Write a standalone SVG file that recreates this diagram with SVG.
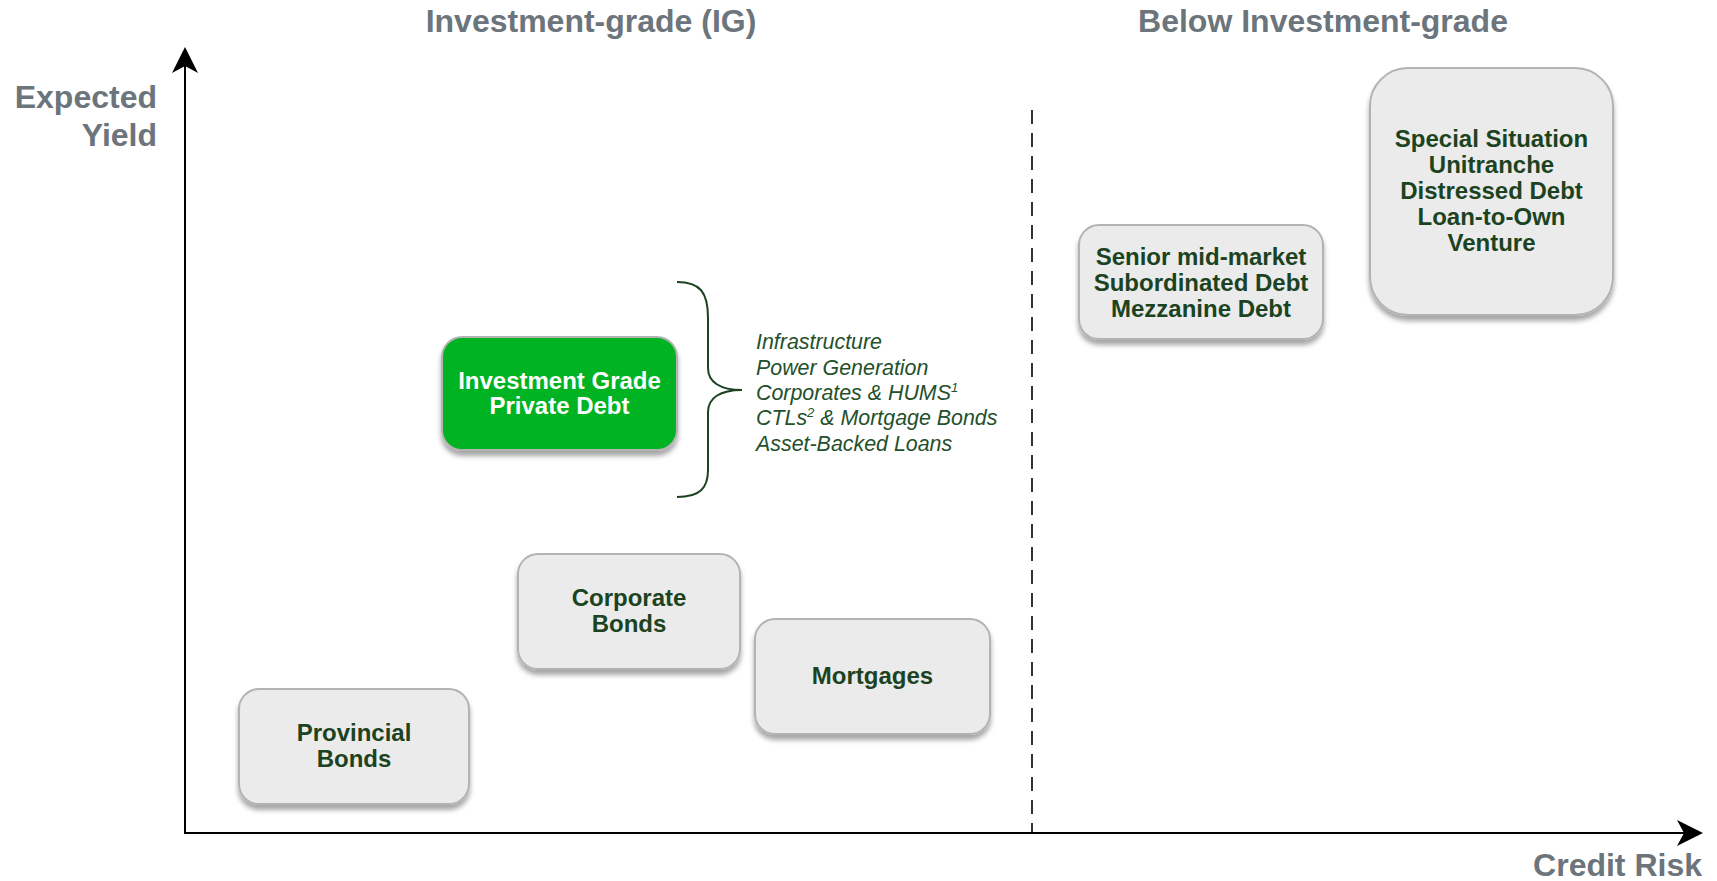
<svg xmlns="http://www.w3.org/2000/svg" width="1717" height="881" viewBox="0 0 1717 881">
<defs>
<filter id="sh" x="-10%" y="-10%" width="120%" height="130%">
<feDropShadow dx="0" dy="5" stdDeviation="2.5" flood-color="#000" flood-opacity="0.35"/>
</filter>
</defs>
<style>
.box{fill:#ebebeb;stroke:#b3b3b3;stroke-width:2;filter:url(#sh)}
.gbox{fill:#00b324;stroke:#b3b3b3;stroke-width:2;filter:url(#sh)}
.nt{font-family:"Liberation Sans",Arial,sans-serif;font-weight:bold;font-size:24px;fill:#1c4321;text-anchor:middle}
.wt{font-family:"Liberation Sans",Arial,sans-serif;font-weight:bold;font-size:24px;fill:#ffffff;text-anchor:middle}
.hd{font-family:"Liberation Sans",Arial,sans-serif;font-weight:bold;font-size:32px;fill:#6c747c}
.it{font-family:"Liberation Sans",Arial,sans-serif;font-style:italic;font-size:21.4px;fill:#24502b}
.ax{stroke:#000;stroke-width:2;fill:none}
</style>
<rect width="1717" height="881" fill="#ffffff"/>
<g id="headings">
<text class="hd" x="591" y="32" text-anchor="middle">Investment-grade (IG)</text>
<text class="hd" x="1323" y="32" text-anchor="middle">Below Investment-grade</text>
<text class="hd" x="157" y="108" text-anchor="end">Expected</text>
<text class="hd" x="157" y="146" text-anchor="end">Yield</text>
<text class="hd" x="1702" y="876" text-anchor="end">Credit Risk</text>
</g>
<g id="connectors">
<line class="ax" x1="185" y1="834" x2="185" y2="62"/>
<path d="M185,47 L198,73 L185,66 L172,73 Z" fill="#000"/>
<line class="ax" x1="184" y1="833" x2="1690" y2="833"/>
<path d="M1703,833 L1677,846 L1684,833 L1677,820 Z" fill="#000"/>
<line x1="1032" y1="110" x2="1032" y2="832" stroke="#000" stroke-width="1.6" stroke-dasharray="14,9"/>
<path d="M677,282 C700,282 708,292 708,318 L708,368 C708,382 720,390 742,390 C720,390 708,398 708,412 L708,470 C708,488 700,497 677,497" fill="none" stroke="#1c4321" stroke-width="2"/>
</g>
<g id="ig-private-debt">
<rect class="gbox" x="442" y="337" width="235" height="113" rx="20"/>
<text class="wt" x="559.5" y="389">Investment Grade</text>
<text class="wt" x="559.5" y="414">Private Debt</text>
</g>
<g id="ig-list">
<text class="it" x="756" y="349">Infrastructure</text>
<text class="it" x="756" y="375">Power Generation</text>
<text class="it" x="756" y="400">Corporates &amp; HUMS<tspan font-size="13" dy="-8">1</tspan></text>
<text class="it" x="756" y="425">CTLs<tspan font-size="13" dy="-8">2</tspan><tspan dy="8"> &amp; Mortgage Bonds</tspan></text>
<text class="it" x="756" y="451">Asset-Backed Loans</text>
</g>
<g id="corporate-bonds">
<rect class="box" x="518" y="554" width="222" height="115" rx="20"/>
<text class="nt" x="629" y="606">Corporate</text>
<text class="nt" x="629" y="632">Bonds</text>
</g>
<g id="mortgages">
<rect class="box" x="755" y="619" width="235" height="115" rx="20"/>
<text class="nt" x="872.5" y="684">Mortgages</text>
</g>
<g id="provincial-bonds">
<rect class="box" x="239" y="689" width="230" height="115" rx="20"/>
<text class="nt" x="354" y="741">Provincial</text>
<text class="nt" x="354" y="767">Bonds</text>
</g>
<g id="senior-mid-market">
<rect class="box" x="1079" y="225" width="244" height="114" rx="20"/>
<text class="nt" x="1201" y="265">Senior mid-market</text>
<text class="nt" x="1201" y="291">Subordinated Debt</text>
<text class="nt" x="1201" y="317">Mezzanine Debt</text>
</g>
<g id="special-situation">
<rect class="box" x="1370" y="68" width="243" height="247" rx="38"/>
<text class="nt" x="1491.5" y="147">Special Situation</text>
<text class="nt" x="1491.5" y="173">Unitranche</text>
<text class="nt" x="1491.5" y="199">Distressed Debt</text>
<text class="nt" x="1491.5" y="225">Loan-to-Own</text>
<text class="nt" x="1491.5" y="251">Venture</text>
</g>
</svg>
